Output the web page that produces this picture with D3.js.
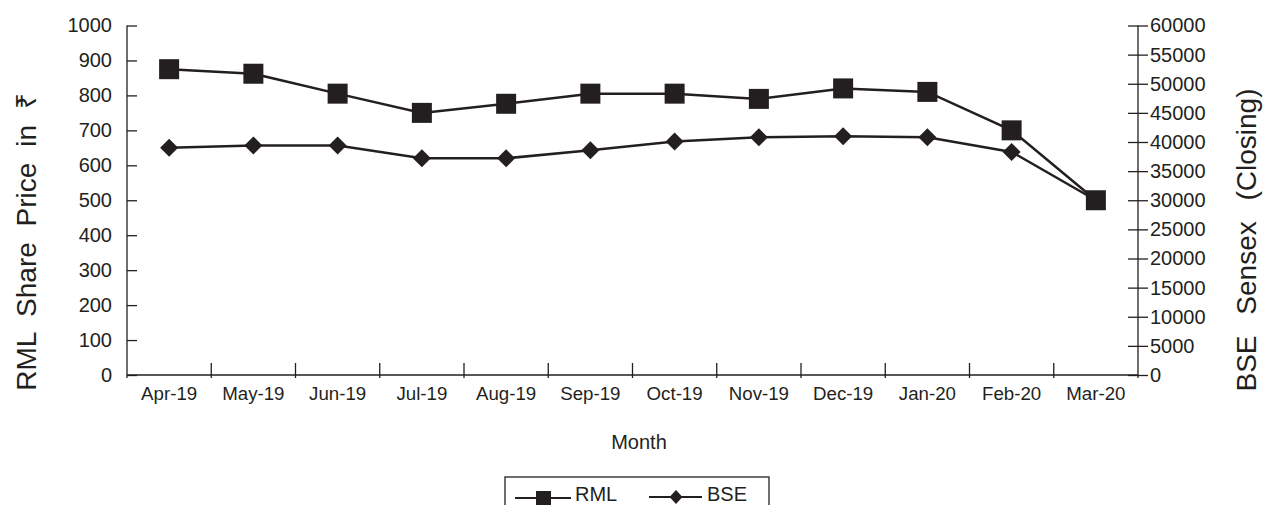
<!DOCTYPE html>
<html>
<head>
<meta charset="utf-8">
<script src="https://cdn.jsdelivr.net/npm/d3@7"></script>
<style>
  body { margin: 0; background: #fff; }
  svg text { font-family: 'Liberation Sans', Arial, sans-serif; fill: #231f20; }
</style>
</head>
<body>
<div id="chart"></div>
<script>
const months = ['Apr-19', 'May-19', 'Jun-19', 'Jul-19', 'Aug-19', 'Sep-19', 'Oct-19', 'Nov-19', 'Dec-19', 'Jan-20', 'Feb-20', 'Mar-20']
const rml = [875, 862, 805, 750, 776, 805, 805, 790, 820, 810, 700, 500]
const bse = [39000, 39400, 39400, 37200, 37200, 38600, 40100, 40800, 41000, 40800, 38300, 30000]
const leftTicks = [0, 100, 200, 300, 400, 500, 600, 700, 800, 900, 1000]
const rightTicks = [0, 5000, 10000, 15000, 20000, 25000, 30000, 35000, 40000, 45000, 50000, 55000, 60000]

const W = 1265, H = 505
const ink = '#231f20'
const plot = { left: 127, right: 1138, top: 25.5, bottom: 375 }

const svg = d3.select('#chart').append('svg').attr('width', W).attr('height', H)

const x = d3.scaleBand().domain(months).range([plot.left, plot.right]).padding(0)
const yL = d3.scaleLinear().domain([0, 1000]).range([plot.bottom, plot.top])
const yR = d3.scaleLinear().domain([0, 60000]).range([plot.bottom, plot.top])
const cx = m => x(m) + x.bandwidth() / 2
const fmt = d3.format('d')

// left axis, ticks crossing the line
const gL = svg.append('g').attr('transform', `translate(${plot.left},0)`)
  .call(d3.axisLeft(yL).tickValues(leftTicks).tickFormat(fmt).tickSize(10).tickPadding(5).tickSizeOuter(0))
gL.selectAll('.tick line').attr('x2', 10)
gL.select('.domain').attr('d', `M0,${plot.top}V${plot.bottom + 3}`)

// right axis
const gR = svg.append('g').attr('transform', `translate(${plot.right},0)`)
  .call(d3.axisRight(yR).tickValues(rightTicks).tickFormat(fmt).tickSize(10).tickPadding(2).tickSizeOuter(0))
gR.selectAll('.tick line').attr('x1', -10)
gR.select('.domain').attr('d', `M0,${plot.top}V${plot.bottom + 3}`)

for (const g of [gL, gR]) {
  g.selectAll('.tick text').attr('font-size', 20).attr('fill', ink)
  g.selectAll('line, path').attr('stroke', ink).attr('stroke-width', 1.3)
}

// bottom axis: boundary ticks pointing up, labels centred in bands
const gB = svg.append('g')
gB.append('line').attr('x1', plot.left).attr('x2', plot.right)
  .attr('y1', plot.bottom).attr('y2', plot.bottom)
  .attr('stroke', ink).attr('stroke-width', 1.3)
gB.selectAll('.xtick').data(months.slice(1)).join('line').attr('class', 'xtick')
  .attr('x1', d => x(d)).attr('x2', d => x(d))
  .attr('y1', plot.bottom - 12).attr('y2', plot.bottom + 3)
  .attr('stroke', ink).attr('stroke-width', 1.3)
gB.selectAll('.xlabel').data(months).join('text').attr('class', 'xlabel')
  .attr('x', d => cx(d)).attr('y', plot.bottom + 25)
  .attr('text-anchor', 'middle').attr('font-size', 18.7)
  .text(d => d)

// series lines
const lineL = d3.line().x((d, i) => cx(months[i])).y(d => yL(d))
const lineR = d3.line().x((d, i) => cx(months[i])).y(d => yR(d))

svg.append('path').datum(bse).attr('d', lineR)
  .attr('fill', 'none').attr('stroke', ink).attr('stroke-width', 2.5)
svg.append('path').datum(rml).attr('d', lineL)
  .attr('fill', 'none').attr('stroke', ink).attr('stroke-width', 2.5)

const diamond = (w, h) => `M0,${-h / 2}L${w / 2},0L0,${h / 2}L${-w / 2},0Z`

svg.selectAll('.bse-pt').data(bse).join('path').attr('class', 'bse-pt')
  .attr('transform', (d, i) => `translate(${cx(months[i])},${yR(d)})`)
  .attr('d', diamond(18, 18)).attr('fill', ink)

svg.selectAll('.rml-pt').data(rml).join('rect').attr('class', 'rml-pt')
  .attr('x', (d, i) => cx(months[i]) - 10).attr('y', d => yL(d) - 10)
  .attr('width', 20).attr('height', 20).attr('fill', ink)

// axis titles
svg.append('text')
  .attr('transform', `translate(36,242) rotate(-90)`)
  .attr('text-anchor', 'middle').attr('font-size', 28).style('word-spacing', '8px')
  .text('RML Share Price in ₹')
svg.append('text')
  .attr('transform', `translate(1256,240) rotate(-90)`)
  .attr('text-anchor', 'middle').attr('font-size', 28).style('word-spacing', '13px')
  .text('BSE Sensex (Closing)')

svg.append('text').attr('x', 639).attr('y', 449)
  .attr('text-anchor', 'middle').attr('font-size', 20).text('Month')

// legend
const lg = svg.append('g').attr('transform', 'translate(505,477)')
lg.append('rect').attr('x', 0).attr('y', 0).attr('width', 264).attr('height', 40)
  .attr('fill', 'none').attr('stroke', ink).attr('stroke-width', 1.3)
lg.append('line').attr('x1', 10).attr('x2', 66).attr('y1', 21).attr('y2', 21)
  .attr('stroke', ink).attr('stroke-width', 2)
lg.append('rect').attr('x', 31).attr('y', 14).attr('width', 15).attr('height', 15).attr('fill', ink)
lg.append('text').attr('x', 70).attr('y', 24).attr('font-size', 20).text('RML')
lg.append('line').attr('x1', 144).attr('x2', 197).attr('y1', 20).attr('y2', 20)
  .attr('stroke', ink).attr('stroke-width', 2)
lg.append('path').attr('transform', 'translate(171,20)').attr('d', diamond(13, 14)).attr('fill', ink)
lg.append('text').attr('x', 202).attr('y', 24).attr('font-size', 20).text('BSE')
</script>
</body>
</html>
